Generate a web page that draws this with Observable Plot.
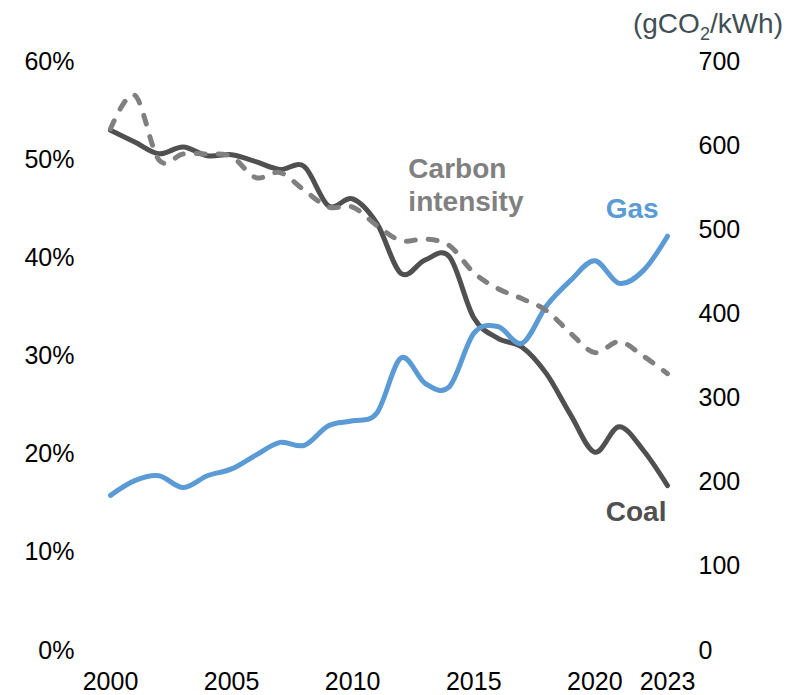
<!DOCTYPE html>
<html>
<head>
<meta charset="utf-8">
<script src="https://cdn.jsdelivr.net/npm/d3@7"></script>
<script src="https://cdn.jsdelivr.net/npm/@observablehq/plot@0.6"></script>
<style>
  html, body { margin: 0; padding: 0; background: #fff; }
  #chart svg { display: block; }
</style>
</head>
<body>
<div id="chart"></div>
<script>
// Power generation mix (share of generation) and carbon intensity, 2000–2023
const years = d3.range(2000, 2024);
const coalShare = [53.0, 51.8, 50.6, 51.3, 50.4, 50.5, 49.8, 49.0, 49.3, 45.3, 46.0, 43.5,
                   38.4, 39.8, 40.1, 33.9, 31.8, 30.9, 28.2, 24.0, 20.2, 22.8, 20.4, 16.8];
const gasShare = [15.8, 17.3, 17.8, 16.6, 17.8, 18.5, 19.9, 21.2, 20.9, 22.9, 23.4, 24.2,
                  29.8, 27.2, 26.9, 32.3, 33.0, 31.3, 35.1, 37.7, 39.7, 37.4, 38.7, 42.2];
// gCO2/kWh
const carbonIntensity = [620, 660, 583, 590, 590, 587, 562, 568, 547, 527, 527, 505,
                         487, 489, 481, 449, 430, 418, 404, 377, 354, 367, 350, 329];

const xTicks = [2000, 2005, 2010, 2015, 2020, 2023];
const shareTicks = [0, 10, 20, 30, 40, 50, 60];
const intensityTicks = [0, 100, 200, 300, 400, 500, 600, 700];

// right axis (0–700 g) shares the left axis range (0–60 %)
const k = 60 / 700;

const coal = years.map((year, i) => ({year, value: coalShare[i]}));
const gas = years.map((year, i) => ({year, value: gasShare[i]}));
const carbon = years.map((year, i) => ({year, value: carbonIntensity[i] * k}));

const COAL = "#505050", GAS = "#5b9bd5", CARBON = "#808080";
const FONT = "'Liberation Sans', Arial, Helvetica, sans-serif";

// smoothed lines (uniform cardinal spline)
const smooth = {curve: "cardinal", tension: 0, strokeWidth: 5, strokeLinecap: "round", strokeLinejoin: "round"};

const chart = Plot.plot({
  width: 810,
  height: 695,
  marginTop: 61,
  marginBottom: 45,
  marginLeft: 110,
  marginRight: 143,
  style: {fontFamily: FONT, fontSize: "25px", color: "#000", background: "#fff", overflow: "visible"},
  x: {domain: [2000, 2023]},
  y: {domain: [0, 60]},
  marks: [
    Plot.axisX(xTicks, {tickSize: 0, tickPadding: 22, tickFormat: d => String(d), label: null}),
    Plot.axisY(shareTicks, {anchor: "left", tickSize: 0, tickPadding: 36, tickFormat: d => d + "%", label: null}),
    Plot.axisY(intensityTicks.map(v => v * k), {anchor: "right", tickSize: 0, tickPadding: 31,
      tickFormat: d => String(Math.round(d / k)), label: null}),
    Plot.line(coal, {x: "year", y: "value", stroke: COAL, ...smooth}),
    Plot.line(gas, {x: "year", y: "value", stroke: GAS, ...smooth}),
    Plot.line(carbon, {x: "year", y: "value", stroke: CARBON, strokeDasharray: "9,13", ...smooth}),
    // series labels
    Plot.text(["Carbon\nintensity"], {x: 2012.3, y: 44.8, text: d => d, textAnchor: "start",
      lineAnchor: "bottom", lineHeight: 1.18, fill: CARBON, fontWeight: "bold", fontSize: 28}),
    Plot.text(["Gas"], {x: 2020.45, y: 44.1, text: d => d, textAnchor: "start",
      lineAnchor: "bottom", fill: GAS, fontWeight: "bold", fontSize: 28}),
    Plot.text(["Coal"], {x: 2020.45, y: 13.2, text: d => d, textAnchor: "start",
      lineAnchor: "bottom", fill: COAL, fontWeight: "bold", fontSize: 28})
  ]
});

// unit label for the right axis, with a subscript 2
const unit = d3.select(chart).append("text")
  .attr("x", 783).attr("y", 33)
  .attr("text-anchor", "end")
  .attr("fill", "#3f4f55")
  .attr("font-family", FONT)
  .attr("font-size", 28);
unit.append("tspan").text("(gCO");
unit.append("tspan").attr("font-size", 18).attr("dy", 7).text("2");
unit.append("tspan").attr("dy", -7).text("/kWh)");

document.getElementById("chart").append(chart);
</script>
</body>
</html>
